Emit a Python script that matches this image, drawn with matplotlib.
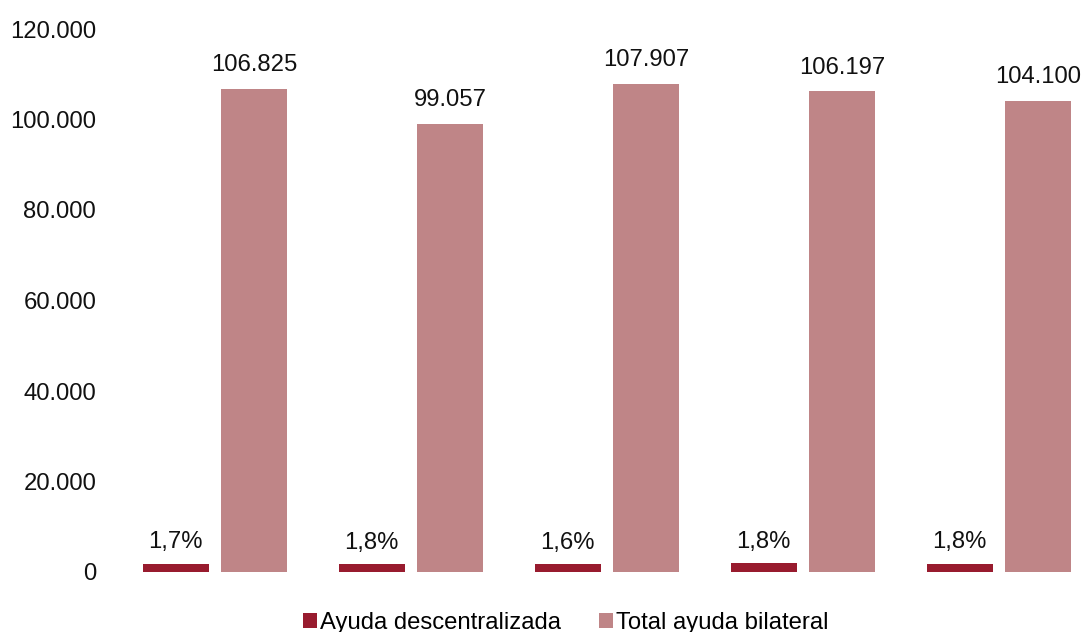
import matplotlib
matplotlib.use("Agg")
import matplotlib.pyplot as plt
import numpy as np

plt.rcParams['font.family'] = ['Liberation Sans', 'DejaVu Sans']

groups = ["2009", "2010", "2011", "2012", "2013"]
total_bilateral = [106825, 99057, 107907, 106197, 104100]
descentralizada = [1816, 1783, 1727, 1912, 1874]
pct_labels = ["1,7%", "1,8%", "1,6%", "1,8%", "1,8%"]
total_labels = ["106.825", "99.057", "107.907", "106.197", "104.100"]
yticks = [0, 20000, 40000, 60000, 80000, 100000, 120000]
ytick_labels = ["0", "20.000", "40.000", "60.000", "80.000", "100.000", "120.000"]

c_dark = "#981B2E"
c_light = "#BF8587"
fs = 17.2

fig = plt.figure(figsize=(10.84, 6.32), dpi=100)
ax = fig.add_axes([117/1084, 60/632, 1 - 117/1084, (572-29)/632])

x = np.arange(len(groups))
w = 0.337
off = 0.201
b1 = ax.bar(x - off, descentralizada, w, color=c_dark, label="Ayuda descentralizada")
b2 = ax.bar(x + off, total_bilateral, w, color=c_light, label="Total ayuda bilateral")

for xi, v, lab in zip(x, descentralizada, pct_labels):
    ax.annotate(lab, (xi - off, v), xytext=(0, 7.5), textcoords="offset points",
                ha="center", va="bottom", fontsize=fs, color="#111111")
for xi, v, lab in zip(x, total_bilateral, total_labels):
    ax.annotate(lab, (xi + off, v), xytext=(0, 9), textcoords="offset points",
                ha="center", va="bottom", fontsize=fs, color="#111111")

ax.set_ylim(0, 120000)
ax.set_xlim(-0.5, 4.434)
ax.set_yticks(yticks)
ax.set_yticklabels(ytick_labels, fontsize=fs, color="#111111")
ax.set_xticks([])
ax.tick_params(axis="y", length=0, pad=15)
for s in ax.spines.values():
    s.set_visible(False)

fig.legend(handles=[b1, b2], loc="center", bbox_to_anchor=(566/1084, 9/632),
           ncol=2, frameon=False, fontsize=fs, handlelength=0.55, handleheight=0.55,
           handletextpad=0.15, columnspacing=1.6, borderaxespad=0, borderpad=0)

fig.savefig("out.png", dpi=100)
